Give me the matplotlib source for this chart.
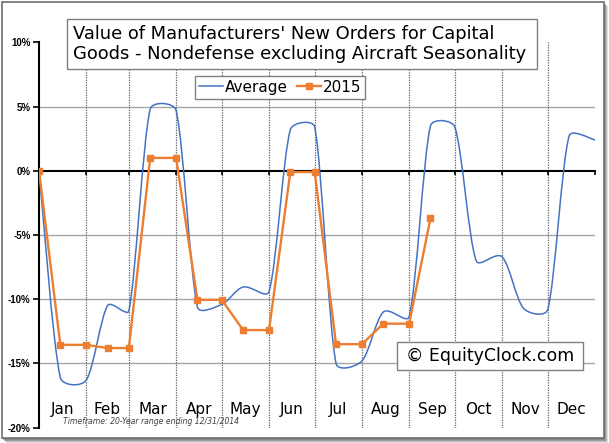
import numpy as np
import matplotlib
matplotlib.use("Agg")
from matplotlib import pyplot as plt
from matplotlib.path import Path
from matplotlib.patches import PathPatch, Rectangle
from matplotlib.lines import Line2D

# day of year for the points: start, then mid-month and month-end
days = [0, 14, 31, 45, 59, 73, 90, 104, 120, 134, 151, 165, 181,
        195, 212, 226, 243, 257, 273, 287, 304, 318, 334, 348, 365]
average = [0, -16.1, -16.3, -10.5, -10.9, 4.8, 4.7, -10.6, -10.4, -9.05, -9.4,
           3.2, 3.4, -15.0, -14.8, -11.0, -11.35, 3.5, 3.4, -7.0, -6.7,
           -10.7, -10.8, 2.7, 2.4]
y2015 = [0, -13.55, -13.55, -13.8, -13.8, 1.0, 1.0, -10.05, -10.05, -12.4, -12.4,
         -0.1, -0.1, -13.5, -13.5, -11.9, -11.9, -3.7]

month_bounds = [0, 31, 59, 90, 120, 151, 181, 212, 243, 273, 304, 334, 365]
months = ['Jan', 'Feb', 'Mar', 'Apr', 'May', 'Jun',
          'Jul', 'Aug', 'Sep', 'Oct', 'Nov', 'Dec']
yticks = [-20, -15, -10, -5, 0, 5, 10]

BLUE = '#4472C4'
ORANGE = '#ED7D31'
W, H = 609, 443


def fx(x):
    return x / W


def fy(y):
    return 1 - y / H


def smooth_path(ax, xs, ys, k=1/6, cap=0.33):
    # excel style smoothed line, bezier through every point
    pts = ax.transData.transform(np.column_stack([xs, ys]))
    n = len(pts)
    verts = [pts[0]]
    codes = [Path.MOVETO]
    for i in range(n - 1):
        p0 = pts[max(i - 1, 0)]
        p1 = pts[i]
        p2 = pts[i + 1]
        p3 = pts[min(i + 2, n - 1)]
        seg = np.hypot(*(p2 - p1))
        t1 = (p2 - p0) * k
        t2 = (p3 - p1) * k
        l1 = np.hypot(*t1)
        l2 = np.hypot(*t2)
        if l1 > seg * cap:
            t1 = t1 * seg * cap / l1
        if l2 > seg * cap:
            t2 = t2 * seg * cap / l2
        verts += [p1 + t1, p2 - t2, p2]
        codes += [Path.CURVE4] * 3
    verts = ax.transData.inverted().transform(np.array(verts))
    return Path(verts, codes)


fig = plt.figure(figsize=(W / 100, H / 100), dpi=100)
fig.patch.set_facecolor('white')

# outer frame with shadow
for i, a in enumerate([0.25, 0.35, 0.5, 0.7]):
    off = 5 - i
    fig.patches.append(Rectangle((fx(1 + off), fy(438 + off)), fx(602), 437 / H,
                                 transform=fig.transFigure, facecolor='#808080',
                                 alpha=a, edgecolor='none', zorder=0))
fig.patches.append(Rectangle((fx(1.5), fy(438)), fx(602), 436.5 / H,
                             transform=fig.transFigure, facecolor='white',
                             edgecolor='#6e6e6e', lw=1.2, zorder=1))

ax = fig.add_axes([fx(39), fy(427.7), fx(595 - 39), (427.7 - 42.3) / H])
ax.set_zorder(2)
ax.patch.set_alpha(0)
ax.set_xlim(0, 365)
ax.set_ylim(-20, 10)

for s in ['top', 'right']:
    ax.spines[s].set_visible(False)
ax.spines['left'].set_linewidth(1.5)
ax.spines['bottom'].set_position(('data', 0))
ax.spines['bottom'].set_linewidth(1.5)

ax.set_yticks(yticks)
ax.set_yticklabels(['%d%%' % v for v in yticks], fontsize=7,
                   fontweight='bold', family='Liberation Sans')
ax.tick_params(axis='y', direction='out', length=4, width=1.2, pad=2)
ax.set_xticks(month_bounds)
ax.set_xticklabels([])
ax.tick_params(axis='x', direction='out', length=3, width=1.2)

for v in [-15, -10, -5, 5]:
    ax.axhline(v, color='#a6a6a6', lw=1.0, zorder=1)
ax.vlines(month_bounds[1:-1], -20, 10, colors='#606060',
          linestyles=(0, (1, 1)), lw=0.9, zorder=1)

ax.add_patch(PathPatch(smooth_path(ax, days, average), fill=False,
                       edgecolor=BLUE, lw=1.1, zorder=3))
ax.plot(days[:len(y2015)], y2015, color=ORANGE, lw=1.7, marker='s',
        markersize=5, zorder=4)

for i, m in enumerate(months):
    ax.text((month_bounds[i] + month_bounds[i + 1]) / 2, -18.6, m,
            ha='center', va='center', fontsize=11)

ax.text(16, -19.5, 'Timeframe: 20-Year range ending 12/31/2014',
        fontsize=5.6, style='italic', color='#404040', va='center', ha='left')

handles = [Line2D([], [], color=BLUE, lw=1.1),
           Line2D([], [], color=ORANGE, lw=1.7, marker='s', markersize=5)]
leg = ax.legend(handles, ['Average', '2015'], ncol=2, loc='upper left',
                bbox_to_anchor=((195 - 39) / 556, 1 - (76 - 42.3) / 385.4),
                borderaxespad=0, fancybox=False, framealpha=1,
                edgecolor='#808080', fontsize=11, handlelength=1.6,
                handletextpad=0.1, columnspacing=0.6, borderpad=0.25)
leg.get_frame().set_linewidth(1.0)
leg.set_zorder(6)

# title box
fig.patches.append(Rectangle((fx(67), fy(69)), fx(537 - 67), 50 / H,
                             transform=fig.transFigure, facecolor='white',
                             edgecolor='#808080', lw=1.0, zorder=5))
fig.text(fx(73), fy(44),
         "Value of Manufacturers' New Orders for Capital\n"
         "Goods - Nondefense excluding Aircraft Seasonality",
         ha='left', va='center', fontsize=12.9, linespacing=1.1, zorder=6)

# watermark box
fig.patches.append(Rectangle((fx(397), fy(370)), fx(583 - 397), 28 / H,
                             transform=fig.transFigure, facecolor='white',
                             edgecolor='#808080', lw=1.0, zorder=5))
fig.text(fx(490), fy(356), '\u00a9 EquityClock.com', ha='center', va='center',
         fontsize=12.5, zorder=6)

fig.savefig('out.png', dpi=100)
